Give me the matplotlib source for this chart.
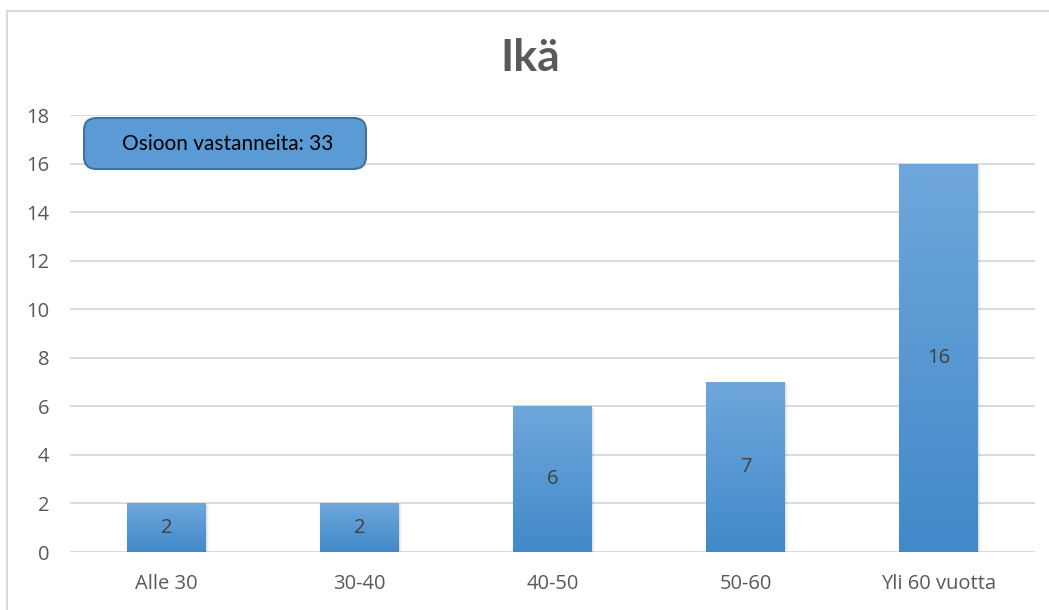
import numpy as np
import matplotlib.pyplot as plt
from matplotlib.colors import LinearSegmentedColormap
from matplotlib.patches import Rectangle, FancyBboxPatch

plt.rcParams['font.family'] = ['Open Sans', 'DejaVu Sans']

categories = ['Alle 30', '30-40', '40-50', '50-60', 'Yli 60 vuotta']
counts = [2, 2, 6, 7, 16]
y_ticks = [0, 2, 4, 6, 8, 10, 12, 14, 16, 18]
title = 'Ikä'
note = 'Osioon vastanneita: 33'

fig = plt.figure(figsize=(10.49, 6.10), dpi=100)
ax = fig.add_axes([70 / 1049, 58 / 610, 965 / 1049, 437 / 610])

# light frame around the whole chart (runs off the right and bottom edges)
fig.patches.append(Rectangle((6.5 / 1049, -0.1), 1.2, 1.1 - 10.5 / 610,
                             transform=fig.transFigure, fill=False,
                             edgecolor='#d9d9d9', linewidth=1.5))

x = np.arange(len(categories))
width = 0.405
grad_cmap = LinearSegmentedColormap.from_list('blue_grad', ['#4189c9', '#6fa7dc'])
grad = np.linspace(0, 1, 256).reshape(-1, 1)

for xi, val in zip(x, counts):
    # soft shadow
    for k, a in enumerate([0.06, 0.04, 0.025]):
        d = 0.006 * (k + 1)
        ax.add_patch(Rectangle((xi - width / 2 - d * 0.3, -0.05 - d * 8), width + d * 1.2, val + d * 8,
                               facecolor='black', alpha=a, linewidth=0, zorder=2))
    bar = Rectangle((xi - width / 2, 0), width, val, facecolor='none', linewidth=0, zorder=3)
    ax.add_patch(bar)
    im = ax.imshow(grad, extent=[xi - width / 2, xi + width / 2, 0, val], origin='lower',
                   aspect='auto', cmap=grad_cmap, zorder=3)
    im.set_clip_path(bar)
    ax.text(xi, val / 2, str(val), ha='center', va='center', fontsize=14.5,
            color='#404040', zorder=4)

ax.set_xlim(-0.5, len(categories) - 0.5)
ax.set_ylim(0, 18)
ax.set_yticks(y_ticks)
ax.set_xticks(x)
ax.set_xticklabels(categories)
ax.tick_params(axis='both', length=0, labelsize=14.5, labelcolor='#595959')
ax.tick_params(axis='y', pad=15)
ax.tick_params(axis='x', pad=16)
ax.grid(axis='y', color='#d9d9d9', linewidth=1.3, zorder=0)
ax.set_axisbelow(True)
for s in ax.spines.values():
    s.set_visible(False)

fig.text(530 / 1049, 1 - 58 / 610, title, ha='center', va='center',
         fontsize=32, fontweight='bold', color='#595959', family=['Lato', 'DejaVu Sans'])

box = FancyBboxPatch((84 / 1049, 1 - 169 / 610), 282 / 1049, 51 / 610,
                     boxstyle='round,pad=0,rounding_size=0.012',
                     transform=fig.transFigure, facecolor='#5b9bd5',
                     edgecolor='#41719c', linewidth=1.5, mutation_aspect=1049 / 610)
fig.patches.append(box)
fig.text(228 / 1049, 1 - 144 / 610, note, ha='center', va='center',
         fontsize=15, color='black', family=['Lato', 'DejaVu Sans'])

fig.savefig('out.png', dpi=100)
